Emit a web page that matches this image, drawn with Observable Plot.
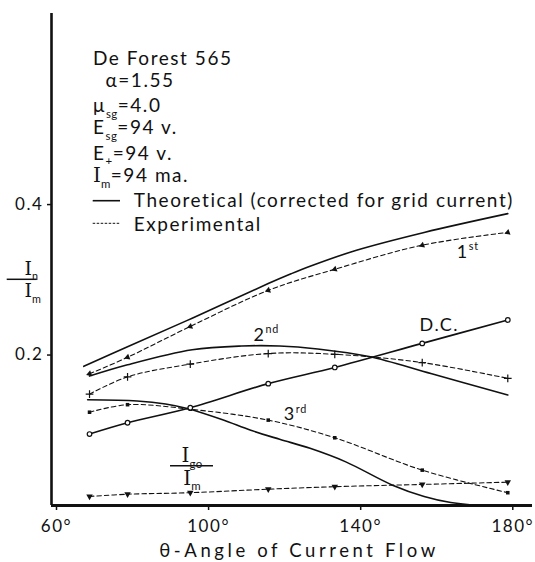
<!DOCTYPE html>
<html><head><meta charset="utf-8">
<script src="https://cdn.jsdelivr.net/npm/d3@7"></script>
<script src="https://cdn.jsdelivr.net/npm/@observablehq/plot@0.6"></script>
<style>
html,body{margin:0;padding:0;background:#fff;}
#chart svg{display:block;}
</style></head><body><div id="chart"></div>
<script>
// ---- ticks ----
const xTicks = [60, 100, 140, 180];
const yTicks = [0.2, 0.4];

// ---- experimental points (θ in degrees, In/Im) ----
const expAngles = [70, 80, 96.5, 117, 134.5, 157.5, 180];
const exp1st = [0.175, 0.197, 0.238, 0.286, 0.314, 0.346, 0.363];
const exp2nd = [0.148, 0.171, 0.188, 0.202, 0.201, 0.190, 0.169];
const exp3rd = [0.124, 0.134, 0.128, 0.1135, 0.090, 0.047, 0.017];
const expDC  = [0.095, 0.110, 0.130, 0.162, 0.1835, 0.2155, 0.2466];
const expIg0 = [0.012, 0.015, 0.017, 0.0217, 0.025, 0.028, 0.031];

// ---- theoretical curves ----
const theo1stAngles = [68.5, 80, 97, 117, 123, 128, 140, 158, 180];
const theo1st = [0.185, 0.211, 0.249, 0.295, 0.308, 0.318, 0.339, 0.363, 0.388];
const theo2ndAngles = [70, 80, 97, 110, 120, 130, 143.5, 160, 180];
const theo2nd = [0.172, 0.187, 0.207, 0.212, 0.212, 0.208, 0.198, 0.175, 0.147];
const theo3rdAngles = [69.5, 82.5, 90, 95.7, 105, 112.4, 120, 128, 137.4, 149.7, 158, 165, 172, 180];
const theo3rd = [0.1405, 0.139, 0.135, 0.129, 0.114, 0.100, 0.088, 0.076, 0.058, 0.027, 0.012, 0.004, 0.0005, 0];

// ---- texts ----
const infoLines = ["De Forest 565", "α=1.55", "μ_{sg}=4.0", "E_{sg}=94 v.", "E_{+}=94 v.", "!{I}_{m}=94 ma."];
const legendLabels = ["Theoretical (corrected for grid current)", "Experimental"];
const curveLabels = ["1^{st}", "2^{nd}", "D.C.", "3^{rd}"];
const igLabelTop = "!{I}_{go}";
const igLabelBottom = "!{I}_{m}";
const yLabelTop = "!{I}_{n}";
const yLabelBottom = "!{I}_{m}";
const xLabel = "θ-Angle of Current Flow";

// ---- layout (positions, not data) ----
const FONT = "Lato, 'Open Sans', sans-serif";
const INK = "#111";
const infoDx = [41.5, 54, 41.5, 41.5, 41.5, 41.5];
const infoDy = [51, 73.7, 98.7, 120.3, 146, 168.7];
const legendDx = 82.3, legendDy = [193.7, 217];
const curveLabelPos = [[166.6, 0.329], [113.1, 0.2193], [156.8, 0.2326], [121.1, 0.113]];
const igPos = [97, 0.053], igRule = [91.3, 102.6];

const rows = (xs, ys) => xs.map((x, i) => ({x, y: ys[i]}));
const solid = {x: "x", y: "y", curve: "catmull-rom", stroke: INK, strokeWidth: 1.6};
const dashed = {x: "x", y: "y", curve: "catmull-rom", stroke: INK, strokeWidth: 1.1, strokeDasharray: "4.5,3"};

const chart = Plot.plot({
  width: 535, height: 562,
  marginLeft: 51, marginRight: 3, marginTop: 13, marginBottom: 57,
  style: {fontFamily: FONT, color: INK, background: "#fff", letterSpacing: "1.55px"},
  x: {domain: [60, 186.5]},
  y: {domain: [0, 0.654]},
  marks: [
    Plot.axisX({ticks: xTicks, tickFormat: d => d + "°", tickSize: 5, tickPadding: 9, fontSize: 17, dx: 5, label: null, strokeWidth: 1.5}),
    Plot.axisY({ticks: yTicks, tickFormat: d => d.toFixed(1), tickSize: 4, tickPadding: 4, fontSize: 17, label: null, strokeWidth: 1.5}),
    Plot.ruleX([60], {y1: 0, y2: 0.654, stroke: INK, strokeWidth: 2.6}),
    Plot.ruleY([0], {x1: 60, x2: 186.5, stroke: INK, strokeWidth: 3}),

    // theoretical
    Plot.line(rows(theo1stAngles, theo1st), solid),
    Plot.line(rows(theo2ndAngles, theo2nd), solid),
    Plot.line(rows(theo3rdAngles, theo3rd), solid),
    Plot.line(rows(expAngles, expDC), solid),

    // experimental
    Plot.line(rows(expAngles, exp1st), dashed),
    Plot.line(rows(expAngles, exp2nd), dashed),
    Plot.line(rows(expAngles, exp3rd), dashed),
    Plot.line(rows(expAngles, expIg0), dashed),

    Plot.dot(rows(expAngles, exp1st), {x: "x", y: "y", symbol: "triangle", r: 2.3, fill: INK, rotate: -110}),
    Plot.dot(rows(expAngles, exp2nd), {x: "x", y: "y", symbol: "plus", r: 2.6, stroke: INK, strokeWidth: 1.2}),
    Plot.dot(rows(expAngles, exp3rd), {x: "x", y: "y", symbol: "square", r: 2, fill: INK}),
    Plot.dot(rows(expAngles, expDC), {x: "x", y: "y", symbol: "circle", r: 2.3, fill: "#fff", stroke: INK, strokeWidth: 1.2}),
    Plot.dot(rows(expAngles, expIg0), {x: "x", y: "y", symbol: "triangle", r: 2.4, fill: INK, rotate: 180}),

    // curve labels
    ...curveLabels.map((t, i) => Plot.text([t], {x: curveLabelPos[i][0], y: curveLabelPos[i][1], text: d => d,
      textAnchor: "start", lineAnchor: "bottom", fontSize: 18, fill: INK})),

    // Ig0 / Im label
    Plot.ruleY([igPos[1]], {x1: igRule[0], x2: igRule[1], stroke: INK, strokeWidth: 1.5}),
    Plot.text([igLabelTop], {x: igPos[0], y: igPos[1], text: d => d, lineAnchor: "bottom", dy: -3.5, fontSize: 19, fill: INK}),
    Plot.text([igLabelBottom], {x: igPos[0], y: igPos[1], text: d => d, lineAnchor: "bottom", dy: 19, fontSize: 19, fill: INK}),

    // info block
    ...infoLines.map((t, i) => Plot.text([t], {frameAnchor: "top-left", text: d => d, dx: infoDx[i], dy: infoDy[i],
      textAnchor: "start", lineAnchor: "bottom", fontSize: 19, fill: INK})),
    ...legendLabels.map((t, i) => Plot.text([t], {frameAnchor: "top-left", text: d => d, dx: legendDx, dy: legendDy[i],
      textAnchor: "start", lineAnchor: "bottom", fontSize: 19, fill: INK})),

    // axis titles
    Plot.text([xLabel], {frameAnchor: "bottom", text: d => d, dx: 7, dy: 51.7, lineAnchor: "bottom", fontSize: 18.5, fill: INK, className: "xlabel"}),
    Plot.text([yLabelTop], {frameAnchor: "left", text: d => d, dx: -27, dy: 15, lineAnchor: "bottom", fontSize: 18, fill: INK}),
    Plot.text([yLabelBottom], {frameAnchor: "left", text: d => d, dx: -27, dy: 37.7, lineAnchor: "bottom", fontSize: 18, fill: INK})
  ]
});

document.getElementById("chart").append(chart);

// rich text: _{sub}, ^{sup}, !{serif}
function richify(el) {
  const s = el.textContent;
  if (!/[_^!]\{/.test(s)) return;
  const fs = parseFloat(getComputedStyle(el).fontSize) || 18;
  while (el.firstChild) el.removeChild(el.firstChild);
  const re = /([_^!])\{([^}]*)\}|([^_^!]+|[_^!])/g;
  let m, cur = 0;
  while ((m = re.exec(s))) {
    const t = document.createElementNS("http://www.w3.org/2000/svg", "tspan");
    let shift = 0, size = fs;
    if (m[1] === "_") { shift = 0.3 * fs; size = 0.6 * fs; t.style.letterSpacing = "0.5px"; }
    else if (m[1] === "^") { shift = -0.42 * fs; size = 0.6 * fs; t.style.letterSpacing = "0.8px"; }
    else if (m[1] === "!") { t.style.fontFamily = "'DejaVu Serif', 'Liberation Serif', serif"; t.style.letterSpacing = "0px"; size = fs * 1.05; }
    t.textContent = m[1] ? m[2] : m[3];
    t.style.fontSize = size + "px";
    if (shift !== cur) { t.setAttribute("dy", shift - cur); cur = shift; }
    el.appendChild(t);
  }
}
d3.select(chart).selectAll("text").each(function() { richify(this); });
d3.select(chart).selectAll(".xlabel text").style("letter-spacing", "3.6px");

// legend swatches and y-label fraction bar
const g = d3.select(chart).append("g").attr("stroke", INK).attr("fill", "none");
g.append("line").attr("x1", 92.7).attr("x2", 120).attr("y1", 200.7).attr("y2", 200.7).attr("stroke-width", 1.6);
g.append("line").attr("x1", 92.7).attr("x2", 120).attr("y1", 223.3).attr("y2", 223.3).attr("stroke-width", 1).attr("stroke-dasharray", "2.5,1.5");
g.append("line").attr("x1", 6.7).attr("x2", 36.7).attr("y1", 279.3).attr("y2", 279.3).attr("stroke-width", 1.5);
</script></body></html>
